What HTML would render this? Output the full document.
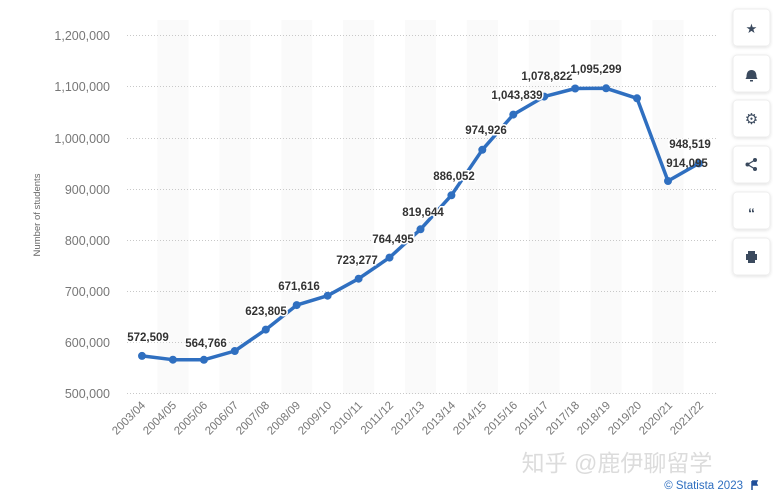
<!DOCTYPE html>
<html><head><meta charset="utf-8"><style>
html,body{margin:0;padding:0;background:#fff;width:773px;height:500px;overflow:hidden}
svg{display:block;font-family:"Liberation Sans",sans-serif}
.btn{fill:#fff;stroke:#eee}
</style></head><body>
<svg width="773" height="500" viewBox="0 0 773 500">
<defs><filter id="sh" x="-30%" y="-30%" width="160%" height="160%"><feDropShadow dx="0" dy="1" stdDeviation="1.5" flood-color="#000" flood-opacity="0.12"/></filter></defs>
<g fill="#fafafa">
<rect x="157.5" y="20" width="31" height="374"/><rect x="219.4" y="20" width="31" height="374"/><rect x="281.3" y="20" width="31" height="374"/><rect x="343.1" y="20" width="31" height="374"/><rect x="405" y="20" width="31" height="374"/><rect x="466.9" y="20" width="31" height="374"/><rect x="528.7" y="20" width="31" height="374"/><rect x="590.6" y="20" width="31" height="374"/><rect x="652.5" y="20" width="31" height="374"/>
</g>
<g stroke="#c8c8c8" stroke-width="1" stroke-dasharray="1,2">
<line x1="127" x2="716" y1="35.5" y2="35.5"/><line x1="127" x2="716" y1="86.5" y2="86.5"/><line x1="127" x2="716" y1="138.5" y2="138.5"/><line x1="127" x2="716" y1="189.5" y2="189.5"/><line x1="127" x2="716" y1="240.5" y2="240.5"/><line x1="127" x2="716" y1="291.5" y2="291.5"/><line x1="127" x2="716" y1="342.5" y2="342.5"/><line x1="127" x2="716" y1="393.5" y2="393.5"/>
</g>
<g font-size="12.5" fill="#777" text-anchor="end">
<text x="110" y="40">1,200,000</text><text x="110" y="91">1,100,000</text><text x="110" y="143">1,000,000</text><text x="110" y="194">900,000</text><text x="110" y="245">800,000</text><text x="110" y="296">700,000</text><text x="110" y="347">600,000</text><text x="110" y="398">500,000</text>
</g>
<text transform="translate(40,215) rotate(-90)" font-size="9.5" fill="#666" text-anchor="middle">Number of students</text>
<g font-size="11.5" fill="#777" text-anchor="end">
<text transform="translate(146,406) rotate(-45)">2003/04</text><text transform="translate(177,406) rotate(-45)">2004/05</text><text transform="translate(208,406) rotate(-45)">2005/06</text><text transform="translate(239,406) rotate(-45)">2006/07</text><text transform="translate(270,406) rotate(-45)">2007/08</text><text transform="translate(301,406) rotate(-45)">2008/09</text><text transform="translate(332,406) rotate(-45)">2009/10</text><text transform="translate(363,406) rotate(-45)">2010/11</text><text transform="translate(394,406) rotate(-45)">2011/12</text><text transform="translate(425,406) rotate(-45)">2012/13</text><text transform="translate(456,406) rotate(-45)">2013/14</text><text transform="translate(487,406) rotate(-45)">2014/15</text><text transform="translate(518,406) rotate(-45)">2015/16</text><text transform="translate(549,406) rotate(-45)">2016/17</text><text transform="translate(580,406) rotate(-45)">2017/18</text><text transform="translate(611,406) rotate(-45)">2018/19</text><text transform="translate(642,406) rotate(-45)">2019/20</text><text transform="translate(673,406) rotate(-45)">2020/21</text><text transform="translate(704,406) rotate(-45)">2021/22</text>
</g>
<polyline fill="none" stroke="#2f6fc0" stroke-width="3.5" stroke-linejoin="round" points="142,355.9 172.9,359.7 203.9,359.8 234.8,351 265.8,329.6 296.7,305.1 327.6,295.7 358.6,278.7 389.5,257.6 420.5,229.3 451.4,195.3 482.3,149.8 513.3,114.6 544.2,96.6 575.2,88.5 606.1,88.3 637,98.3 668,181 698.9,163.4"/>
<g fill="#2f6fc0">
<circle cx="142" cy="355.9" r="4"/><circle cx="172.9" cy="359.7" r="4"/><circle cx="203.9" cy="359.8" r="4"/><circle cx="234.8" cy="351" r="4"/><circle cx="265.8" cy="329.6" r="4"/><circle cx="296.7" cy="305.1" r="4"/><circle cx="327.6" cy="295.7" r="4"/><circle cx="358.6" cy="278.7" r="4"/><circle cx="389.5" cy="257.6" r="4"/><circle cx="420.5" cy="229.3" r="4"/><circle cx="451.4" cy="195.3" r="4"/><circle cx="482.3" cy="149.8" r="4"/><circle cx="513.3" cy="114.6" r="4"/><circle cx="544.2" cy="96.6" r="4"/><circle cx="575.2" cy="88.5" r="4"/><circle cx="606.1" cy="88.3" r="4"/><circle cx="637" cy="98.3" r="4"/><circle cx="668" cy="181" r="4"/><circle cx="698.9" cy="163.4" r="4"/>
</g>
<g font-size="11.5" font-weight="bold" fill="#333" text-anchor="middle" stroke="#fff" stroke-width="3" paint-order="stroke">
<text x="148" y="341">572,509</text><text x="206" y="347">564,766</text><text x="266" y="315">623,805</text><text x="299" y="290">671,616</text><text x="357" y="264">723,277</text><text x="393" y="243">764,495</text><text x="423" y="216">819,644</text><text x="454" y="180">886,052</text><text x="486" y="134">974,926</text><text x="517" y="99">1,043,839</text><text x="547" y="80">1,078,822</text><text x="596" y="73">1,095,299</text><text x="690" y="148">948,519</text>
</g>
<text x="687" y="167" font-size="11.5" font-weight="bold" fill="#333" text-anchor="middle">914,095</text>
<g filter="url(#sh)">
<rect class="btn" x="733" y="9" width="37" height="37" rx="4"/><rect class="btn" x="733" y="55" width="37" height="37" rx="4"/><rect class="btn" x="733" y="100" width="37" height="37" rx="4"/><rect class="btn" x="733" y="146" width="37" height="37" rx="4"/><rect class="btn" x="733" y="192" width="37" height="37" rx="4"/><rect class="btn" x="733" y="238" width="37" height="37" rx="4"/>
</g>
<g fill="#3b4a5e" font-size="13" text-anchor="middle">
<text x="751.5" y="33">★</text>
<path d="M746.5 77 q0-7 5-7 q5 0 5 7 l1 2 h-12 z M750 80 h3 v1.5 h-3z"/>
<text x="751.5" y="124" font-size="15">⚙</text>
<circle cx="755" cy="160" r="2"/><circle cx="747.5" cy="164.5" r="2"/><circle cx="755" cy="169" r="2"/>
<path d="M755 160 L747.5 164.5 L755 169" stroke="#3b4a5e" stroke-width="1.3" fill="none"/>
<text x="751.5" y="218" font-size="14" font-weight="bold">“</text>
<path d="M746 254 h11 v6 h-2 v3 h-7 v-3 h-2z M748 251 h7 v3 h-7z" />
</g>
<text x="617" y="471" font-size="23" fill="#dcdcdc" font-family="'Liberation Sans','Noto Sans CJK SC',sans-serif" text-anchor="middle">知乎 @鹿伊聊留学</text>
<text x="743" y="489" font-size="11.5" fill="#2f6fc0" text-anchor="end">© Statista 2023</text>
<path d="M752 481 v9 M752 481 h5 l-1 2 l1 2 h-5" stroke="#1f4e99" stroke-width="1.5" fill="#1f4e99"/>
</svg>
</body></html>
